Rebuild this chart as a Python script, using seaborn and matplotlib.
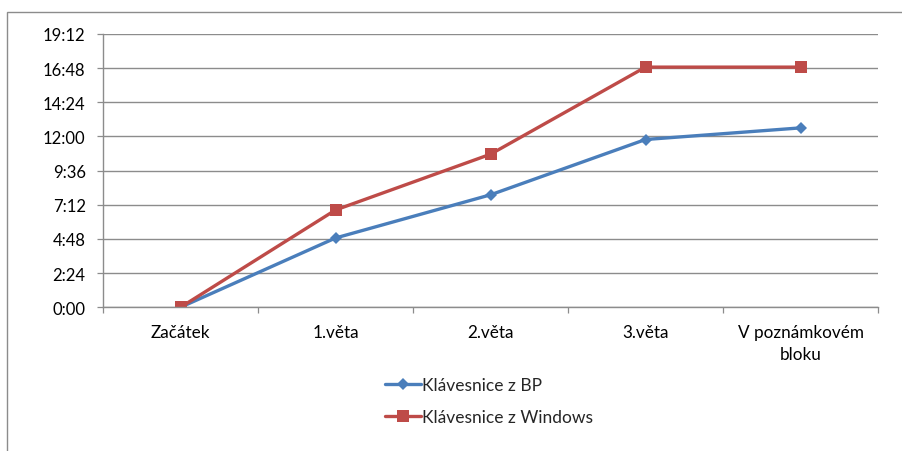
import matplotlib
matplotlib.use("Agg")
import matplotlib.pyplot as plt
from matplotlib.patches import Rectangle
from matplotlib.lines import Line2D
from matplotlib.ticker import FixedLocator, FuncFormatter
import seaborn as sns
import pandas as pd

# Categories and times (seconds)
categories = ["Začátek", "1.věta", "2.věta", "3.věta", "V poznámkovém\nbloku"]
bp_times = [0, 292, 474, 707, 756]
win_times = [0, 410, 645, 1012, 1012]
series_names = ["Klávesnice z BP", "Klávesnice z Windows"]
y_ticks = [0, 144, 288, 432, 576, 720, 864, 1008, 1152]

df = pd.DataFrame({
    "cat": categories * 2,
    "t": bp_times + win_times,
    "series": [series_names[0]] * len(categories) + [series_names[1]] * len(categories),
})

sns.set_theme(style="white")
plt.rcParams["font.family"] = ["Lato", "DejaVu Sans"]

fig = plt.figure(figsize=(9.02, 4.52), dpi=100)
ax = fig.add_axes([103 / 902, 1 - 308.3 / 452, (878 - 103) / 902, (308.3 - 34.9) / 452])

colors = {series_names[0]: "#4A7EBB", series_names[1]: "#BE4B48"}
sns.lineplot(data=df, x="cat", y="t", hue="series", style="series",
             markers={series_names[0]: "D", series_names[1]: "s"},
             dashes=False, palette=colors, linewidth=2.4, ax=ax,
             markeredgewidth=0, legend=False, sort=False)
for ln, ms in zip(ax.lines, [6.4, 8.6]):
    ln.set_markersize(ms)

ax.set_xlim(-0.5, len(categories) - 0.5)
ax.set_ylim(0, 1152)
ax.set_xlabel("")
ax.set_ylabel("")

# y axis: time labels m:ss
ax.yaxis.set_major_locator(FixedLocator(y_ticks))
ax.yaxis.set_major_formatter(FuncFormatter(lambda v, p: f"{int(v) // 60}:{int(v) % 60:02d}"))
ax.grid(axis="y", color="#8C8C8C", linewidth=1.0)
ax.grid(axis="x", visible=False)
ax.set_axisbelow(True)

# x axis: labels at category centres, ticks at boundaries
ax.set_xticks(range(len(categories)))
ax.set_xticklabels(categories, linespacing=1.5)
ax.set_xticks([i - 0.5 for i in range(len(categories) + 1)], minor=True)
ax.tick_params(axis="x", which="major", length=0, pad=12, labelsize=12.3, colors="#000000")
ax.tick_params(axis="x", which="minor", length=4.5, width=0.9, color="#8C8C8C", direction="out")
ax.tick_params(axis="y", which="major", length=4.5, width=0.9, color="#8C8C8C", direction="out",
               pad=8, labelsize=12, labelcolor="#000000")
ax.xaxis.set_ticks_position("bottom")
ax.yaxis.set_ticks_position("left")

for side in ["top", "right"]:
    ax.spines[side].set_visible(False)
for side in ["left", "bottom"]:
    ax.spines[side].set_color("#8C8C8C")
    ax.spines[side].set_linewidth(1.0)

# legend below the plot
handles = [
    Line2D([], [], color=colors[series_names[0]], marker="D", markersize=6.4, linewidth=2.4, markeredgewidth=0),
    Line2D([], [], color=colors[series_names[1]], marker="s", markersize=8.6, linewidth=2.4, markeredgewidth=0),
]
fig.legend(handles, series_names, loc="upper left", bbox_to_anchor=(385 / 902, 1 - 378 / 452),
           frameon=False, fontsize=12.5, handlelength=2.1, handletextpad=0.05,
           labelspacing=0.95, borderpad=0, borderaxespad=0)

# chart frame
fig.add_artist(Rectangle((7 / 902, -0.1), 1.2, 1 - 13 / 452 + 0.1, transform=fig.transFigure,
                         fill=False, edgecolor="#8C8C8C", linewidth=1.0))

fig.savefig("out.png", dpi=100, facecolor="white")
